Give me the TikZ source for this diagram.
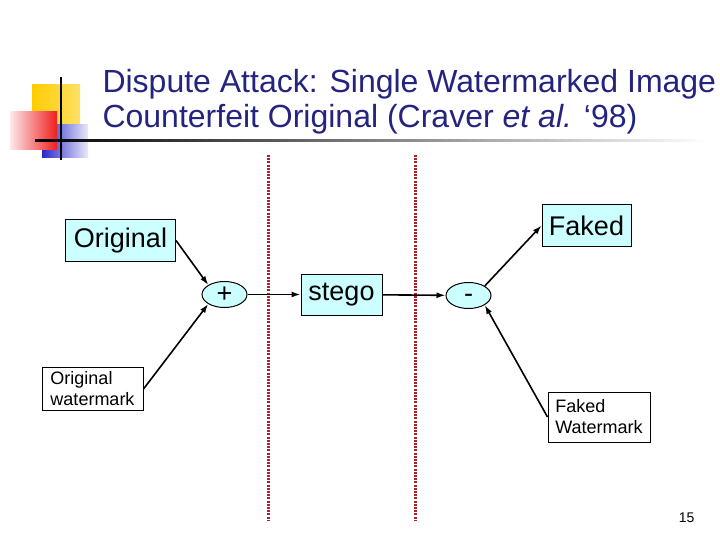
\documentclass[tikz,border=0pt]{standalone}
\usepackage{fontspec}
\setmainfont{Liberation Sans}
\usetikzlibrary{arrows.meta,shapes.geometric}
\definecolor{TitleBlue}{RGB}{36,36,128}
\definecolor{BoxCyan}{RGB}{204,255,255}
\definecolor{CutRed}{RGB}{170,35,40}
\definecolor{DecoYellow}{RGB}{255,204,0}
\definecolor{DecoRed}{RGB}{240,30,30}
\definecolor{DecoBlue}{RGB}{40,40,200}

\begin{document}
\begin{tikzpicture}[x=1pt,y=-1pt,>={Latex[length=9pt,width=6pt]},
  namebox/.style={draw,line width=1pt,fill=BoxCyan,inner sep=0pt,font=\fontsize{27}{32}\selectfont},
  opellipse/.style={ellipse,draw,line width=1pt,fill=BoxCyan,inner sep=0pt,minimum width=45pt,
    minimum height=26pt,font=\fontsize{27}{32}\selectfont},
  notebox/.style={draw,line width=1pt,fill=white,align=left,inner sep=0pt,font=\fontsize{18}{21}\selectfont},
  link/.style={->,line width=1.6pt},
  cutline/.style={CutRed,line width=3pt,dash pattern=on 2pt off 1.2pt}]
  \useasboundingbox[fill=white] (0,0) rectangle (720,540);
  % slide decoration
  \shade[left color=DecoYellow,right color=DecoYellow!60] (32,85) rectangle (80,126);
  \shade[left color=DecoBlue,right color=DecoBlue!10] (42,125) rectangle (88,158);
  \shade[left color=DecoRed!10,right color=DecoRed] (10,112) rectangle (57,150);
  \draw[line width=2pt] (61,77) -- (61,160);
  \shade[left color=black,right color=white] (35,139.4) rectangle (710,141.4);
  \node[anchor=base west,align=left,TitleBlue,font=\fontsize{32}{35}\selectfont] (title)
    at (99,128) {Dispute Attack: Single Watermarked Image\\
    Counterfeit Original (Craver \textit{et al.} ‘98)};
  % cuts
  \draw[cutline] (268,155) -- (268,520);
  \draw[cutline] (415,155) -- (415,520);
  % nodes
  \node[namebox,minimum width=110pt,minimum height=41pt] (orig) at (120.5,240.5) {Original};
  \node[namebox,minimum width=89pt,minimum height=41pt] (faked) at (586.5,225.5) {Faked};
  \node[namebox,minimum width=81pt,minimum height=41pt] (stego) at (341.5,294.5) {stego};
  \node[opellipse] (plus) at (224.5,294.5) {+};
  \node[opellipse,text height=13pt,text depth=0pt] (minus) at (468.5,295.5) {-};
  \node[notebox,minimum width=101pt,minimum height=43pt] (owm) at (92.5,389) {Original\\watermark};
  \node[notebox,minimum width=102pt,minimum height=50pt] (fwm) at (599,417) {Faked\\Watermark};
  % connectors
  \draw[link] (orig.east) -- (plus.north west);
  \draw[link] (owm.east) -- (plus.south west);
  \draw[link] (plus) -- (stego);
  \draw[link] (stego) -- (minus);
  \draw[link] (minus.north east) -- (faked.west);
  \draw[link] (fwm.west) -- (minus.south east);
  \node[anchor=base east,font=\fontsize{14}{16}\selectfont] (page) at (698,522) {15};
\end{tikzpicture}
\end{document}
